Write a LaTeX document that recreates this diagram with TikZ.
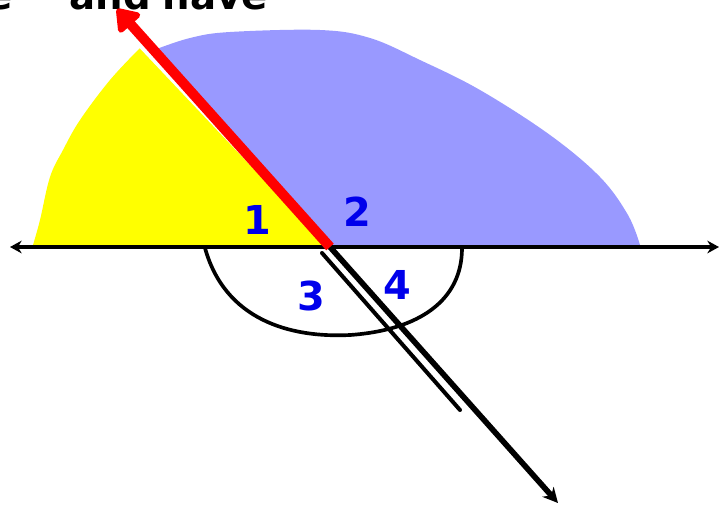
\documentclass[tikz,border=0pt]{standalone}
\usepackage{fontspec}
\setmainfont{DejaVu Sans}
\usetikzlibrary{arrows.meta}

\definecolor{wedgeyellow}{RGB}{255,255,0}
\definecolor{wedgeblue}{RGB}{153,153,255}
\definecolor{anglelabel}{RGB}{0,0,235}

\tikzset{
  anglenum/.style={font=\bfseries\fontsize{34}{34}\selectfont, text=anglelabel, inner sep=0pt},
  baseline/.style={line width=1.2mm, {Stealth[length=3.5mm,width=3.8mm]}-{Stealth[length=3.5mm,width=3.8mm]}},
  redray/.style={red, line width=3mm, -{Triangle[round,length=7mm,width=9.5mm]}},
  blackray/.style={line width=1.7mm, -{Stealth[length=4.5mm,width=4.5mm]}},
}

\begin{document}
\begin{tikzpicture}[x=0.3mm, y=-0.3mm]
\useasboundingbox (0,0) rectangle (727,509);
\clip (0,0) rectangle (727,509);

% points
\coordinate (vertex) at (330,247);
\coordinate (lineW) at (10,247);
\coordinate (lineE) at (719,247);
\coordinate (redtip) at (117,9);
\coordinate (blacktip) at (558,503);
\coordinate (scribA) at (322,253);
\coordinate (scribB) at (460,410);

% === CAPTION (cut off at the top) ===
\node[anchor=base east, font=\bfseries\fontsize{33}{33}\selectfont, inner sep=0pt] (caption) at (268,9)
  {e\hspace{17mm}and\hspace{3.5mm}have};

% === SHADED ANGLES ===
\fill[wedgeblue] (330,245) -- plot[smooth, tension=0.6] coordinates {(154,50) (190,38) (230,32)
    (320,30) (370,38) (420,60) (480,90) (550,135) (600,177) (628,215) (640,245)} -- cycle;
\fill[wedgeyellow] (327,245) -- plot[smooth, tension=0.6] coordinates {(140,48) (110,80) (80,120)
    (63,150) (50,177) (40,220) (33,245)} -- cycle;
\draw[white, line width=0.6mm] (140,47) -- (327,245);

% === LINE AND RAYS ===
\draw[baseline] (lineW) -- (lineE);
\draw[blackray] (vertex) -- (blacktip);
\draw[line width=1.2mm, line cap=round] (scribA) -- (scribB);
\draw[redray] (vertex) -- (redtip);

% arc for angles 3 and 4
\draw[line width=1.1mm, line cap=round] (205,248) .. controls (225,320) and (290,338) .. (350,335)
  .. controls (420,330) and (462,300) .. (462,248);

% === LABELS ===
\node[anglenum] (one) at (257,220) {1};
\node[anglenum] (two) at (357,212) {2};
\node[anglenum] (three) at (311,296) {3};
\node[anglenum] (four) at (397,285) {4};

\end{tikzpicture}
\end{document}
